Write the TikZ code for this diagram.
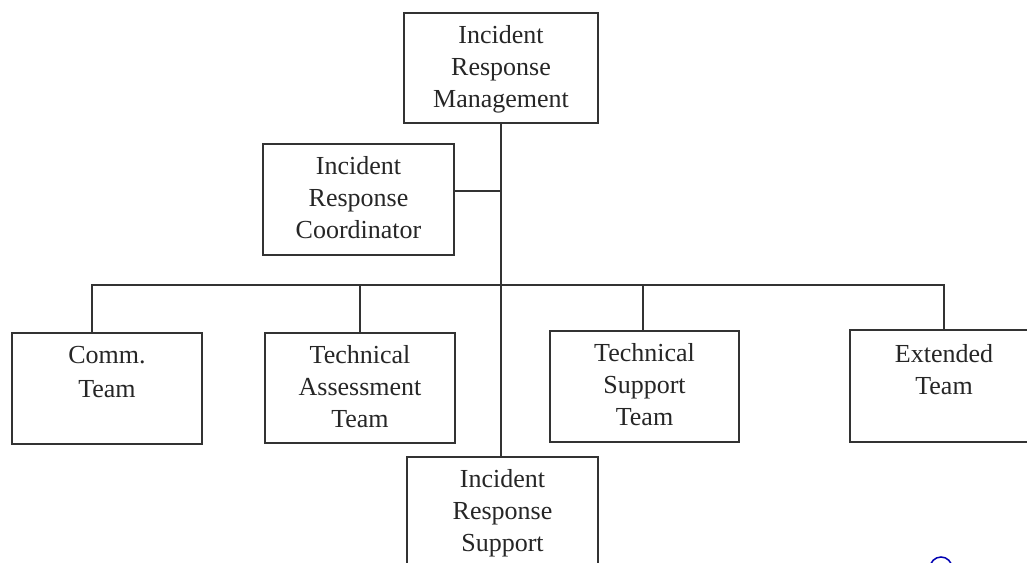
\documentclass[tikz,border=0pt]{standalone}
\usepackage{fontspec}
\setmainfont{Liberation Serif}
\begin{document}
\begin{tikzpicture}[x=1pt,y=-1pt,
  box/.style={draw=black!80,line width=1.8pt,rectangle,inner sep=0pt,minimum width=#1,minimum height=110pt},
  box/.default=191pt,
  txt/.style={anchor=north,inner sep=0pt,align=center,font=\fontsize{26}{32}\selectfont,text=black!85},
  link/.style={draw=black!80,line width=1.8pt}]
\clip (0,0) rectangle (1027,562);
\fill[white] (0,0) rectangle (1027,562);
% boxes
\node[box=194pt] (top) at (501,68) {};
\node[box=191pt,minimum height=111pt] (coord) at (358.5,199.5) {};
\node[box=190pt,minimum height=111pt] (comm) at (107,388.5) {};
\node[box=190pt] (ta) at (360,388) {};
\node[box=189pt,minimum height=111pt] (ts) at (644.5,386.5) {};
\node[box=188pt,minimum height=112pt] (ext) at (944,386) {};
\node[box=191pt] (sup) at (502.5,512) {};
% texts
\node[txt] (ttop) at ([yshift=-13pt]top.north) {Incident\\Response\\Management};
\node[txt] (tcoord) at ([yshift=-13pt]coord.north) {Incident\\Response\\Coordinator};
\node[txt,font=\fontsize{26}{34}\selectfont] (tcomm) at ([yshift=-14pt]comm.north) {Comm.\\Team};
\node[txt] (tta) at ([yshift=-13pt]ta.north) {Technical\\Assessment\\Team};
\node[txt] (tts) at ([yshift=-13pt]ts.north) {Technical\\Support\\Team};
\node[txt] (text) at ([yshift=-15pt]ext.north) {Extended\\Team};
\node[txt] (tsup) at ([yshift=-13pt]sup.north) {Incident\\Response\\Support};
% connectors
\coordinate (bus) at (501,285);
\draw[link] (top.south) -- (top.south |- sup.north);
\draw[link] ([yshift=8.5pt]coord.east) -- ([yshift=8.5pt]coord.east -| top.south);
\draw[link] ([xshift=-15pt]comm.north) -- ([xshift=-15pt]comm.north |- bus) -- (ext.north |- bus) -- (ext.north);
\draw[link] (ta.north) -- (ta.north |- bus);
\draw[link] ([xshift=-1.5pt]ts.north) -- ([xshift=-1.5pt]ts.north |- bus);
% stray blue mark
\draw[blue!70!black,line width=1.5pt] (941,568) circle (11);
\end{tikzpicture}
\end{document}
